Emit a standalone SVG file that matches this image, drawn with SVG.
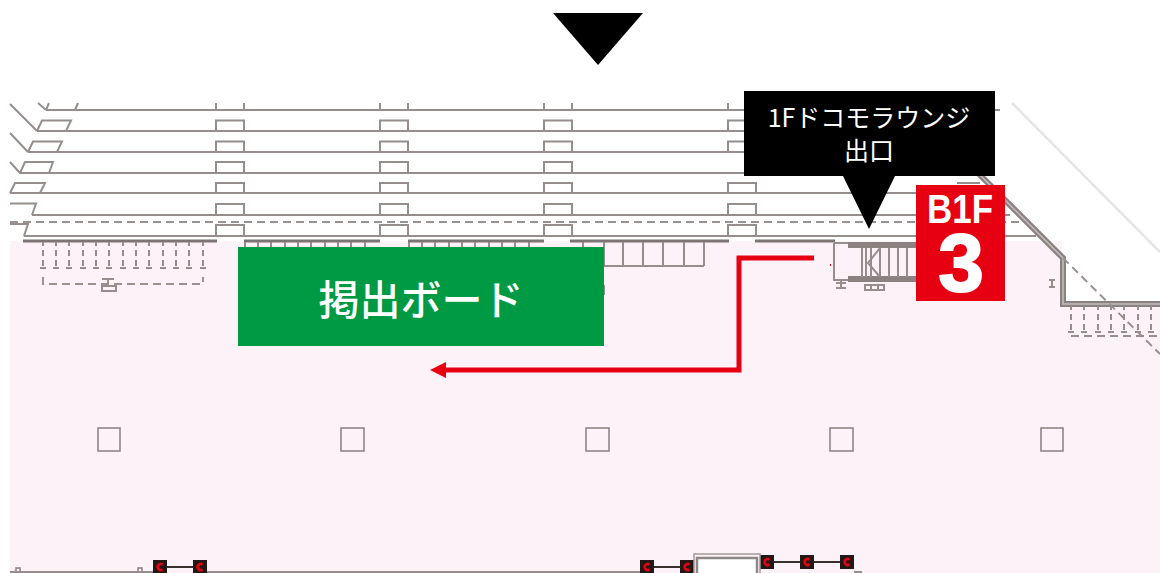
<svg xmlns="http://www.w3.org/2000/svg" width="1160" height="573" viewBox="0 0 1160 573">
<style>
.p{fill:none;stroke:#968d8d;stroke-width:2}
.t{fill:none;stroke:#7d7474;stroke-width:3.2}
.d{fill:none;stroke:#9a9191;stroke-width:2;stroke-dasharray:8 5}
.c{fill:#fdf2f8;stroke:#8f8686;stroke-width:1.6}
.ev{fill:#231815}
.evr{fill:none;stroke:#e60012;stroke-width:2.6}
.jp{font-family:"Noto Sans CJK JP","Noto Sans",sans-serif;fill:#fff;text-anchor:middle}
.b{font-family:"Liberation Sans",Arial,sans-serif;fill:#fff;text-anchor:middle;font-weight:700}
</style>
<defs>
<g id="elev"><rect x="0" y="0" width="14" height="14" class="ev"/><path d="M9.5 4.600A3 3 0 1 0 9.500 9.400" class="evr"/></g>
<path id="win" d="M0 10.500V0H28V10.500" class="p"/>
<g id="tick"><path d="M0 0V4M0 8V14M0 18V24M-3 26H3" class="p"/></g>
</defs>
<g id="floor">
<path d="M10 241H1062V304H1160V573H10Z" fill="#fdf2f8"/>
<path d="M1012 103L1160 252" fill="none" stroke="#e6e4e4" stroke-width="2.500"/>
</g>
<g id="plan">
<path class="p" d="M46 110H1000M37 131H744M28 152H744M19 173H744M10 193H990M32 215H1010M24 236H1036"/>
<path class="p" d="M10 104L37 131M10 133L28 152M10 162L20 173M38 103L46 110M49 103L46 110M78 103L75 110"/>
<path class="p" d="M37 131L42 120.500H71L66 131M28 152L33 141.500H62L57 152M20 173L25 162H53L49 173M10 193L15 183H45L40 193M10 203.500H36L32 215M10 224H28L24 236"/>
<g id="windows">
<path class="p" d="M216 103V110M244 103V110M380 103V110M408 103V110M544 103V110M572 103V110M728 103V110M756 103V110"/>
<use href="#win" x="216" y="120.500"/><use href="#win" x="380" y="120.500"/><use href="#win" x="544" y="120.500"/><use href="#win" x="728" y="120.500"/>
<use href="#win" x="216" y="141.500"/><use href="#win" x="380" y="141.500"/><use href="#win" x="544" y="141.500"/><use href="#win" x="728" y="141.500"/>
<use href="#win" x="216" y="162"/><use href="#win" x="380" y="162"/><use href="#win" x="544" y="162"/>
<use href="#win" x="216" y="183"/><use href="#win" x="380" y="183"/><use href="#win" x="544" y="183"/><use href="#win" x="728" y="183"/>
<use href="#win" x="216" y="204"/><use href="#win" x="380" y="204"/><use href="#win" x="544" y="204"/><use href="#win" x="728" y="204"/>
<use href="#win" x="216" y="225"/><use href="#win" x="380" y="225"/><use href="#win" x="544" y="225"/><use href="#win" x="728" y="225"/>
</g>
<path class="d" d="M10 222H1020"/>
<path class="t" d="M23 241H217M244 241H380M408 241H544M570 241H729M755 241H835"/>
<g id="bay-left">
<use href="#tick" x="43" y="242"/><use href="#tick" x="56" y="242"/><use href="#tick" x="69" y="242"/><use href="#tick" x="83" y="242"/><use href="#tick" x="96" y="242"/><use href="#tick" x="109" y="242"/><use href="#tick" x="123" y="242"/><use href="#tick" x="136" y="242"/><use href="#tick" x="149" y="242"/><use href="#tick" x="163" y="242"/><use href="#tick" x="176" y="242"/><use href="#tick" x="189" y="242"/><use href="#tick" x="203" y="242"/>
<path class="d" d="M43 277V284H203V277"/>
<path class="p" d="M102 279H114M108 279V284M102 286H116V291H102Z"/>
</g>
<path class="p" d="M245 242V248M258 242V248M271 242V248M285 242V248M298 242V248M311 242V248M325 242V248M338 242V248M351 242V248M365 242V248M409 242V248M422 242V248M435 242V248M449 242V248M462 242V248M475 242V248M489 242V248M502 242V248M515 242V248M529 242V248M583 242V248"/>
<path class="p" d="M604 242V266M623 242V266M643 242V266M663 242V266M684 242V266M704 242V266M604 266H704"/>
<path class="p" d="M604 285V295"/>
<g id="stairs">
<path class="p" d="M834 243H848M834 243V280H848M841 280V289M836 283H846M836 288H846M865 285H884V290H865ZM871 285V290M878 285V290"/>
<path d="M848 245H916M848 279H916" fill="none" stroke="#8a8181" stroke-width="6"/>
<path class="p" d="M862 248V277M866 248V277M871 248V277M880 248V277M889 248V277M898 248V277M907 248V277M880 248L868 263L880 277"/>
</g>
<g id="wall">
<path d="M978 173L1063 258V304H1160" fill="none" stroke="#8a8181" stroke-width="6"/>
<path d="M978 173L1063 258V304H1160" fill="none" stroke="#c5bfbf" stroke-width="1.500"/>
<path d="M957 183H980" class="p"/>
<path class="d" d="M1063 258L1160 354"/>
<path class="p" d="M1052 281V287M1049 280H1055M1049 287H1055"/>
<use href="#tick" x="1071" y="306"/><use href="#tick" x="1084" y="306"/><use href="#tick" x="1098" y="306"/><use href="#tick" x="1111" y="306"/><use href="#tick" x="1124" y="306"/><use href="#tick" x="1138" y="306"/><use href="#tick" x="1151" y="306"/>
<path class="p" d="M1071 336H1160" stroke-dasharray="8 5"/>
</g>
<g id="columns">
<rect x="98" y="428" width="22" height="23" class="c"/><rect x="341" y="428" width="23" height="23" class="c"/><rect x="586" y="428" width="23" height="23" class="c"/><rect x="830" y="428" width="23" height="23" class="c"/><rect x="1041" y="428" width="22" height="23" class="c"/>
</g>
<g id="bottom">
<path class="p" d="M10 572H155M207 572H640M854 572H862"/>
<rect x="16" y="568" width="4" height="4" class="c"/><rect x="138" y="568" width="4" height="4" class="c"/>
<path d="M160 567H200M647 567H687M767 562H847" stroke="#3a3030" stroke-width="2" fill="none"/>
<use href="#elev" x="153" y="560"/><use href="#elev" x="193" y="560"/><use href="#elev" x="640" y="560"/><use href="#elev" x="680" y="560"/><use href="#elev" x="760" y="555"/><use href="#elev" x="800" y="555"/><use href="#elev" x="840" y="555"/>
<path d="M694 573V554H760V573" fill="none" stroke="#a39b9b" stroke-width="1.500"/>
<path d="M697 573V558H757V573" fill="#fff" stroke="#8f8686" stroke-width="2.500"/>
</g>
</g>
<g id="connectors">
<path d="M814 258H739V370H445" fill="none" stroke="#e60012" stroke-width="5"/>
<path d="M430 370L446 362V378Z" fill="#e60012"/>
<rect x="830" y="264" width="1" height="2" fill="#e60012"/>
</g>
<g id="top-marker"><path d="M553 13H643L598 65Z" fill="#000"/></g>
<g id="board">
<rect x="238" y="247" width="366" height="99" fill="#009a44"/>
<text x="421" y="315" class="jp" font-size="41" font-weight="500">掲出ボード</text>
</g>
<g id="exit-label">
<path d="M744 91H995V176H895L869 229L843 176H744Z" fill="#000"/>
<text x="869" y="127" class="jp" font-size="25">1Fドコモラウンジ</text>
<text x="869" y="160" class="jp" font-size="25">出口</text>
</g>
<g id="b1f-badge">
<rect x="916" y="185" width="89" height="116" fill="#e60012"/>
<text x="960" y="223" class="b" font-size="41" textLength="66" lengthAdjust="spacingAndGlyphs">B1F</text>
<text x="961" y="291" class="b" font-size="82" stroke="#fff" stroke-width="2">3</text>
</g>
</svg>
